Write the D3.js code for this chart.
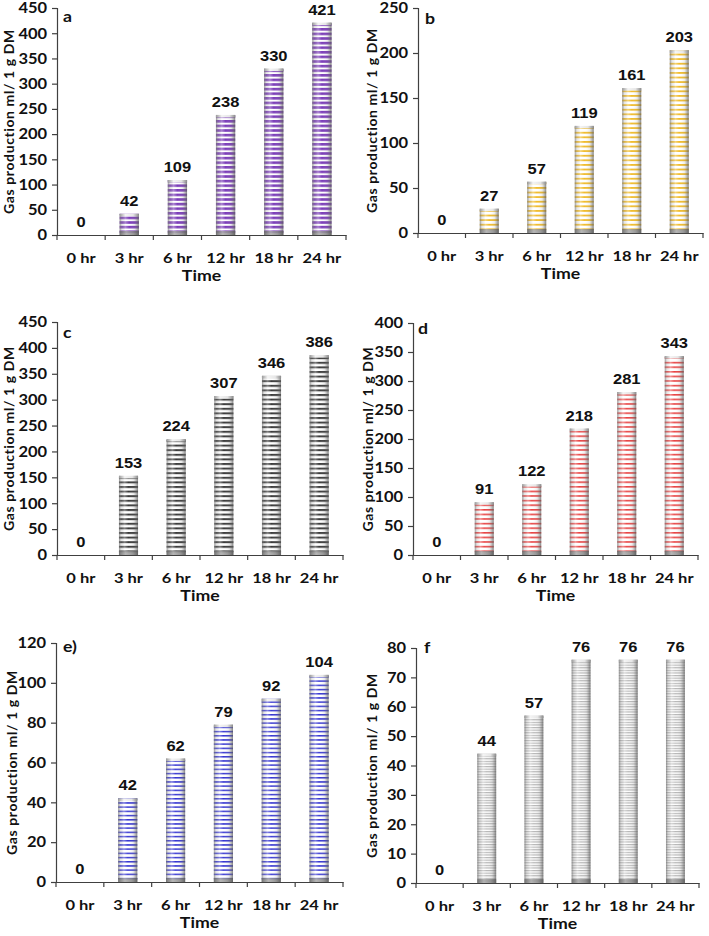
<!DOCTYPE html>
<html><head><meta charset="utf-8">
<script src="https://cdn.jsdelivr.net/npm/d3@7/dist/d3.min.js"></script>
<style>
html,body{margin:0;padding:0;background:#fff;}
svg{display:block;}
</style></head>
<body>
<svg id="chart" width="709" height="936"></svg>
<script>
// ---- data ----
const categories = ["0 hr", "3 hr", "6 hr", "12 hr", "18 hr", "24 hr"];
const valuesA = [0, 42, 109, 238, 330, 421];
const valuesB = [0, 27, 57, 119, 161, 203];
const valuesC = [0, 153, 224, 307, 346, 386];
const valuesD = [0, 91, 122, 218, 281, 343];
const valuesE = [0, 42, 62, 79, 92, 104];
const valuesF = [0, 44, 57, 76, 76, 76];
const yMaxes = [450, 250, 450, 400, 120, 80];
const yTickSteps = [50, 50, 50, 50, 20, 10];
const panelLetters = ["a", "b", "c", "d", "e)", "f"];
const yAxisTitle = "Gas production ml/ 1 g DM";
const xAxisTitle = "Time";

// ---- layout / style ----
const layouts = [
  {ax:57,  right:346, top:8,   base:235, labelX:14,  lx:63,  ly:22,  color:"#7a3cb8", period:4.6, line:2.6},
  {ax:418, right:703, top:8,   base:233, labelX:377, lx:425, ly:24,  color:"#f0bb2a", period:4.6, line:1.8},
  {ax:57,  right:343, top:322, base:555, labelX:14,  lx:63,  ly:338, color:"#3a3a3a", period:4.6, line:2.0},
  {ax:413, right:698, top:323, base:555, labelX:373, lx:418, ly:334, color:"#e84040", period:4.6, line:1.6},
  {ax:56,  right:343, top:643, base:882, labelX:17,  lx:63,  ly:652, color:"#3030d0", period:4.2, line:1.5},
  {ax:416, right:699, top:648, base:883, labelX:377, lx:424, ly:653, color:"#b4b4b4", period:2.6, line:1.2}
];
const allValues = [valuesA, valuesB, valuesC, valuesD, valuesE, valuesF];
const SX = 1.18; // horizontal text stretch
const SXT = 1.1; // tick label stretch
const svg = d3.select("#chart");
const defs = svg.append("defs");

// cylinder shading gradient
const cyl = defs.append("linearGradient").attr("id","cyl").attr("x1",0).attr("x2",1).attr("y1",0).attr("y2",0);
[[0,"#6e6e6e",0.75],[0.12,"#9a9a9a",0.25],[0.3,"#ffffff",0.35],[0.5,"#ffffff",0.0],[0.78,"#808080",0.15],[1,"#5a5a5a",0.75]]
  .forEach(s=>cyl.append("stop").attr("offset",s[0]).attr("stop-color",s[1]).attr("stop-opacity",s[2]));
const baseG = defs.append("linearGradient").attr("id","baseg").attr("x1",0).attr("x2",1).attr("y1",0).attr("y2",0);
[[0,"#6a6a6a"],[0.35,"#a8a8a8"],[0.7,"#8a8a8a"],[1,"#5e5e5e"]].forEach(s=>baseG.append("stop").attr("offset",s[0]).attr("stop-color",s[1]));
const capG = defs.append("linearGradient").attr("id","capg").attr("x1",0).attr("x2",1).attr("y1",0).attr("y2",0);
[[0,"#9a9a9a"],[0.3,"#f4f4f4"],[0.7,"#e6e6e6"],[1,"#8a8a8a"]].forEach(s=>capG.append("stop").attr("offset",s[0]).attr("stop-color",s[1]));

function stretch(sel){
  sel.each(function(){
    const t = d3.select(this);
    const x = +t.attr("x") || 0, y = +t.attr("y") || 0;
    t.attr("x",0).attr("y",0).attr("transform",`translate(${x},${y}) scale(${SX},1)`);
  });
}

layouts.forEach((L,i)=>{
  const vals = allValues[i];
  const pid = "pat"+i;
  const pat = defs.append("pattern").attr("id",pid).attr("patternUnits","userSpaceOnUse")
    .attr("width",10).attr("height",L.period).attr("y",L.base);
  pat.append("rect").attr("width",10).attr("height",L.period).attr("fill","#ffffff");
  pat.append("rect").attr("width",10).attr("height",L.line).attr("fill",L.color);

  const x = d3.scaleBand().domain(categories).range([L.ax, L.right]).padding(0);
  const y = d3.scaleLinear().domain([0, yMaxes[i]]).range([L.base, L.top]);
  const g = svg.append("g");
  const bw = x.bandwidth()*0.4;
  const bars = g.selectAll("g.bar").data(vals.map((v,j)=>({v,c:categories[j]}))).enter().append("g");
  bars.filter(d=>d.v>0).each(function(d){
    const gg = d3.select(this);
    const bx = x(d.c) + (x.bandwidth()-bw)/2, by = y(d.v), bh = L.base - y(d.v);
    gg.append("rect").attr("x",bx).attr("y",by).attr("width",bw).attr("height",bh).attr("fill",`url(#${pid})`);
    gg.append("rect").attr("x",bx).attr("y",by).attr("width",bw).attr("height",bh).attr("fill","url(#cyl)");
    gg.append("rect").attr("x",bx).attr("y",L.base-4).attr("width",bw).attr("height",4).attr("fill","url(#baseg)").attr("opacity",0.85);
    gg.append("rect").attr("x",bx).attr("y",by).attr("width",bw).attr("height",2.5).attr("fill","url(#capg)");
  });
  // value labels
  g.selectAll("text.val").data(vals.map((v,j)=>({v,c:categories[j]}))).enter().append("text")
    .attr("class","val")
    .attr("x",d=>x(d.c)+x.bandwidth()/2).attr("y",d=>y(d.v)-8)
    .attr("text-anchor","middle").attr("font-family","'Liberation Sans', Arial, sans-serif")
    .attr("font-weight","bold").attr("font-size",14).attr("fill","#111").text(d=>d.v)
    .call(stretch);

  // y axis
  const ticks = d3.range(0, yMaxes[i]+0.001, yTickSteps[i]);
  const ya = g.append("g").attr("transform",`translate(${L.ax},0)`)
    .call(d3.axisLeft(y).tickValues(ticks).tickSize(5).tickPadding(4).tickFormat(d3.format("d")));
  ya.select(".domain").attr("stroke","#404040").attr("stroke-width",1.2);
  ya.selectAll(".tick line").attr("stroke","#404040").attr("stroke-width",1.2);
  ya.selectAll(".tick text").attr("font-family","Lato, 'Open Sans', sans-serif").attr("font-weight","bold")
    .attr("font-size",15).attr("fill","#111").attr("transform",`scale(${SXT},1)`);

  // x axis
  const xa = g.append("g").attr("transform",`translate(0,${L.base})`)
    .call(d3.axisBottom(x).tickSize(0).tickPadding(0));
  xa.select(".domain").attr("stroke","#404040").attr("stroke-width",1.2);
  xa.selectAll(".tick text").remove();
  xa.selectAll(".tick line").remove();
  const bounds = categories.map(c=>x(c)).concat([L.right]);
  g.selectAll("line.xt").data(bounds).enter().append("line")
    .attr("x1",d=>d).attr("x2",d=>d).attr("y1",L.base).attr("y2",L.base+5)
    .attr("stroke","#404040").attr("stroke-width",1.2);
  g.selectAll("text.cat").data(categories).enter().append("text")
    .attr("x",d=>x(d)+x.bandwidth()/2).attr("y",L.base+28)
    .attr("text-anchor","middle").attr("font-family","Lato, 'Open Sans', sans-serif")
    .attr("font-weight","bold").attr("font-size",14).attr("fill","#111").text(d=>d)
    .call(stretch);

  // titles
  g.append("text").attr("x",(L.ax+L.right)/2).attr("y",L.base+46).attr("text-anchor","middle")
    .attr("font-family","Lato, 'Open Sans', sans-serif").attr("font-weight","bold").attr("font-size",15)
    .attr("fill","#111").text(xAxisTitle).call(stretch);
  g.append("text").attr("transform",`translate(${L.labelX},${(L.top+L.base)/2}) rotate(-90)`)
    .attr("text-anchor","middle").attr("font-family","Lato, 'Open Sans', sans-serif")
    .attr("font-weight","bold").attr("font-size",14).attr("letter-spacing",0.6)
    .attr("fill","#111").text(yAxisTitle);
  g.append("text").attr("x",L.lx).attr("y",L.ly).attr("font-family","Lato, 'Open Sans', sans-serif")
    .attr("font-weight","bold").attr("font-size",15).attr("fill","#111").text(panelLetters[i]).call(stretch);
});
</script>
</body></html>
